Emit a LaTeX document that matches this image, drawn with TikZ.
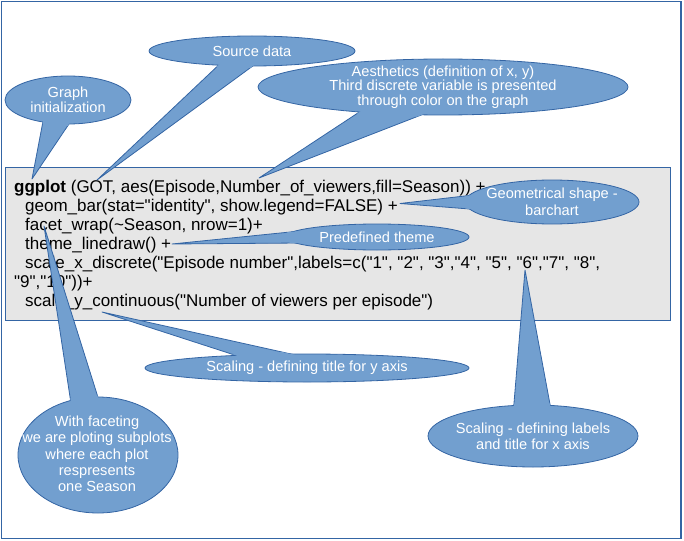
\documentclass[tikz,border=0pt]{standalone}
\usepackage{fontspec}
\setmainfont{Liberation Sans}
\newfontfamily\codefont{Liberation Sans}
\usetikzlibrary{shapes.geometric}
\definecolor{cfill}{HTML}{729FCF}
\definecolor{cline}{HTML}{3465A4}
\definecolor{codebg}{HTML}{E6E6E6}
\tikzset{
  bubblebg/.style={fill=cfill, draw=cline, line width=0.8pt},
  tailstroke/.style={fill=cfill, draw=cline, line width=0.8pt, line join=round},
  bubbletext/.style={text=white, align=center, inner sep=0pt, font=\fontsize{14.6}{15.5}\selectfont},
  codeline/.style={anchor=base west, inner sep=0pt, font=\codefont\fontsize{17}{19}\selectfont},
}
% #1 centre, #2 x radius, #3 y radius, #4 base point 1, #5 base point 2, #6 tip
\newcommand\mybubble[6]{%
  \filldraw[tailstroke] #4 -- #6 -- #5 -- cycle;
  \filldraw[bubblebg] #1 ellipse [x radius=#2, y radius=#3];
  \begin{scope}
    \clip #1 ellipse [x radius=#2+2, y radius=#3+2];
    \fill[cfill] #4 -- #6 -- #5 -- cycle;
  \end{scope}}
\begin{document}
\begin{tikzpicture}[x=1pt,y=-1pt]
\useasboundingbox (0,0) rectangle (684,540);
\draw[cline, line width=1.2pt] (1.5,1.5) rectangle (681,538.5);
\draw[cline, line width=0.8pt, fill=codebg] (5,167) rectangle (670,320);

\node[codeline] (l1) at (14,192) {\textbf{ggplot} (GOT, aes(Episode,Number\_of\_viewers,fill=Season)) +};
\node[codeline] (l2) at (25,211) {geom\_bar(stat="identity", show.legend=FALSE) +};
\node[codeline] (l3) at (25,230) {facet\_wrap(\textasciitilde Season, nrow=1)+};
\node[codeline] (l4) at (25,249) {theme\_linedraw() +};
\node[codeline] (l5) at (25,268) {scale\_x\_discrete("Episode number",labels=c("1", "2", "3","4", "5", "6","7", "8",};
\node[codeline] (l6) at (14,287) {"9","10"))+};
\node[codeline] (l7) at (25,306) {scale\_y\_continuous("Number of viewers per episode")};

\coordinate (tipA) at (32,179);
\coordinate (tipB) at (97,180);
\coordinate (tipC) at (259,178);
\coordinate (tipD) at (400,203.5);
\coordinate (tipE) at (172,244);
\coordinate (tipF) at (102,312);
\coordinate (tipG) at (44,226);
\coordinate (tipH) at (525,270);

\mybubble{(68,100)}{63}{24}{(44,116)}{(73,118)}{(tipA)}
\node[bubbletext] (init) at (68,100) {Graph\\initialization};

\mybubble{(252,51)}{103}{15}{(224,60)}{(261,60)}{(tipB)}
\node[bubbletext] (src) at (252,51) {Source data};

\mybubble{(443,87)}{185}{28}{(370,105)}{(447,105)}{(tipC)}
\node[bubbletext, font=\fontsize{14.6}{14.6}\selectfont] (aes) at (443,87) {Aesthetics (definition of x, y)\\Third discrete variable is presented\\through color on the graph};

\mybubble{(552,202)}{87}{22}{(482,194)}{(482,210)}{(tipD)}
\node[bubbletext, font=\fontsize{14.6}{16.5}\selectfont] (geom) at (552,202) {Geometrical shape -\\barchart};

\mybubble{(377,237)}{92}{13}{(300,231)}{(300,243)}{(tipE)}
\node[bubbletext] (theme) at (377,237) {Predefined theme};

\mybubble{(307,368)}{162}{14}{(250,360)}{(300,356)}{(tipF)}
\node[bubbletext] (scy) at (307,368) {Scaling - defining title for y axis};

\mybubble{(98,455)}{80}{58}{(72,410)}{(102,410)}{(tipG)}
\node[bubbletext, font=\fontsize{14.6}{16.3}\selectfont] (facet) at (97,454) {With faceting\\we are ploting subplots\\where each plot\\respresents\\one Season};

\mybubble{(533,436)}{105}{31}{(513,415)}{(552,415)}{(tipH)}
\node[bubbletext, font=\fontsize{14.6}{16}\selectfont] (scx) at (533,436) {Scaling - defining labels\\and title for x axis};
\end{tikzpicture}
\end{document}
